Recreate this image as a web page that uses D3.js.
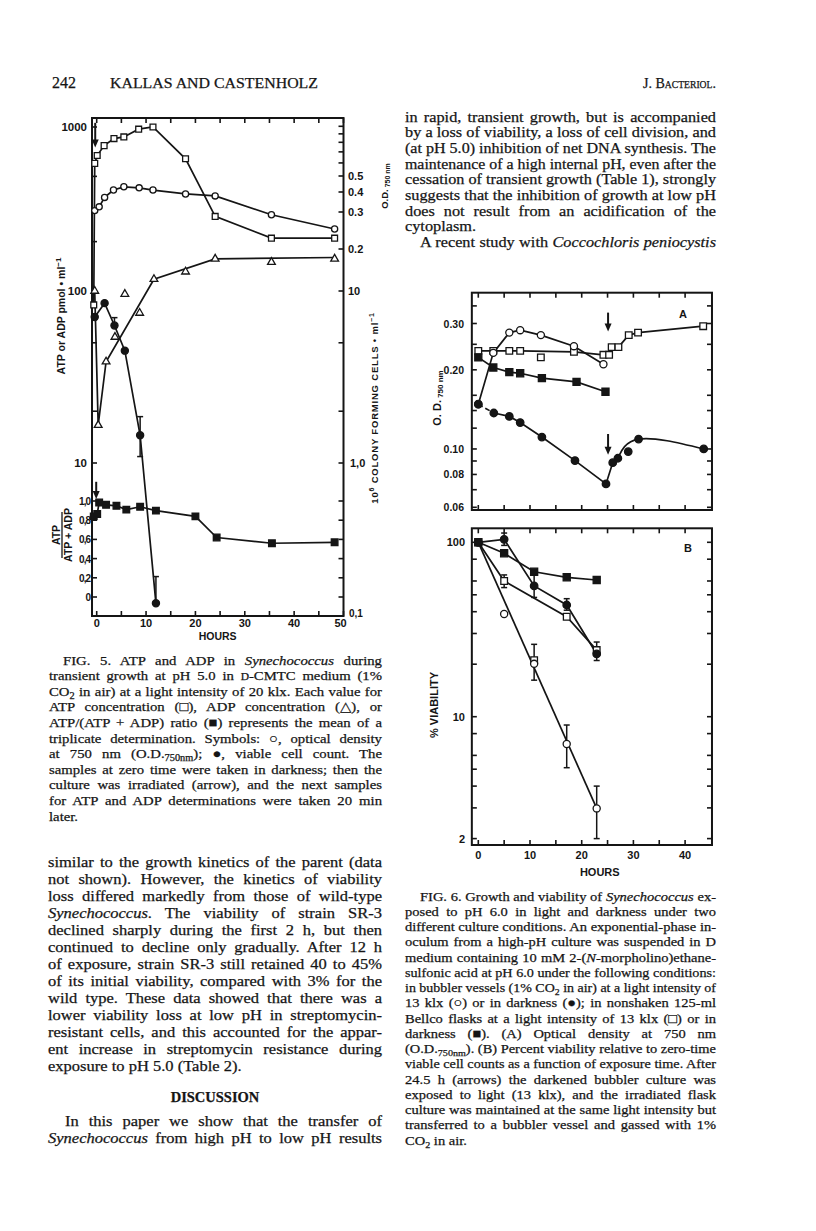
<!DOCTYPE html>
<html lang="en">
<head>
<meta charset="UTF-8">
<title>Kallas and Castenholz - page 242</title>
<script src="https://d3js.org/d3.v7.min.js"></script>
<style>
  body { margin: 0; background: #fff; }
  svg { display: block; background: #fff; }
  .serif { font-family: "Liberation Serif", "DejaVu Serif", serif; fill: #151515; stroke: #151515; stroke-width: 0.25; }
  .sans { font-family: "Liberation Sans", Arial, sans-serif; fill: #151515; font-weight: bold; }
</style>
</head>
<body>
<svg id="page" width="816" height="1231"></svg>
<script>
// ---------- FIG. 5 data (x = hours) ----------
const atpPoints = [[-0.6, 83], [-0.4, 600], [0.1, 670], [1.5, 770], [3.5, 850], [5.5, 870], [8.5, 970], [11.4, 1000], [18, 640], [24, 285], [35.4, 210], [48.2, 210]];
const odPoints = [[-0.4, 0.306], [0.5, 0.323], [1.6, 0.37], [3.4, 0.411], [5.5, 0.43], [8.6, 0.424], [11.4, 0.411], [18, 0.389], [24, 0.378], [35.4, 0.291], [48.2, 0.249]];
const adpPoints = [[-0.4, 100], [0.3, 16.6], [1.9, 38.8], [3.7, 54], [5.7, 96], [8.7, 74.5], [11.6, 118], [18, 131], [24, 157], [35.4, 150], [48.2, 157]];
const adpLine = [[-0.4, 100], [0.3, 16.6], [1.9, 38.8], [11.6, 118], [24, 157], [48.2, 160]];
const viablePoints = [[-0.4, 7.06], [1.6, 8.5], [3.6, 6.3], [5.7, 4.5], [8.8, 1.45], [12, 0.121]];   // 10^6 cells/ml
const viableErrors = [[3.6, 6.3, 7.0], [8.8, 1.09, 1.86], [12, 0.121, 0.181]];
const ratioPoints = [[-0.6, 0.84], [0.1, 0.865], [0.5, 0.985], [1.9, 0.96], [4, 0.95], [6, 0.91], [8.8, 0.94], [12, 0.90], [20, 0.84], [24.3, 0.62], [35.5, 0.56], [48.2, 0.57]];
const fig5Arrows = [{ t: -0.3, from: 1060, to: 750, axis: "left" }, { t: -0.1, from: 1.2, to: 1.02, axis: "ratio" }];

const hours5Ticks = d3.range(0, 51, 5);
const hours5Labels = [0, 10, 20, 30, 40, 50];
const left5Ticks = [10, 20, 50, 100, 200, 500, 1000];
const left5Labels = [10, 100, 1000];
const od5Ticks = [0.2, 0.3, 0.4, 0.5, 0.6, 0.7, 0.8, 0.9, 1.0];
const od5Labels = ["0.5", "0.4", "0.3", "0.2"];
const colony5Ticks = [1, 2, 5, 10];
const ratioTicks = [0, 0.2, 0.4, 0.6, 0.8, 1.0];
const ratioLabels = ["0", "0,2", "0,4", "0,6", "0,8", "1,0"];

// ---------- FIG. 6A data (O.D. 750 nm) ----------
const aLightBubbler = [[0, 0.148], [2.9, 0.232], [6, 0.277], [8.1, 0.283], [12.1, 0.271], [18.5, 0.246], [24.2, 0.210]];
const aLightFlask = [[0, 0.236], [2.9, 0.236], [6, 0.236], [8.1, 0.236], [12.1, 0.223], [18.5, 0.234], [24.2, 0.228], [25.3, 0.228], [25.8, 0.244], [27.1, 0.244], [29.1, 0.271], [30.9, 0.277], [43.5, 0.293]];
const aLightFlaskLine = [[0, 0.236], [8.1, 0.236], [18.5, 0.234], [24.2, 0.228], [25.3, 0.228], [25.8, 0.244], [27.1, 0.244], [29.1, 0.271], [30.9, 0.277], [43.5, 0.293]];
const aDarkFlask = [[0, 0.223], [2.9, 0.204], [6, 0.196], [8.1, 0.194], [12.3, 0.186], [19, 0.180], [24.6, 0.165]];
const aDarkBubbler = [[0, 0.148], [3, 0.137], [6, 0.133], [8.1, 0.126], [12.3, 0.111], [18.7, 0.0903], [24.7, 0.0736], [26, 0.0887], [27, 0.0922], [29, 0.0977], [31, 0.109], [43.6, 0.100]];
const aDarkBubblerCurve = [[26, 0.0887], [27, 0.0922], [31, 0.109], [43.6, 0.100]];
const aArrows = [{ t: 25.1, from: 0.33, to: 0.28 }, { t: 25.1, from: 0.114, to: 0.095 }];
const aTicks = [0.06, 0.07, 0.08, 0.09, 0.10, 0.12, 0.14, 0.16, 0.20, 0.25, 0.30, 0.35];
const aLabels = ["0.06", "0.08", "0.10", "0.20", "0.30"];

// ---------- FIG. 6B data (% viability) ----------
const bLightBubbler = [[0, 100], [5, 38.8], [10.8, 20.1], [17.1, 6.97], [22.9, 2.98]];
const bLightBubblerLine = [[0, 100], [22.9, 2.98]];
const bLightBubblerErr = [[10.8, 16.2, 26], [17.1, 5.1, 8.96], [22.9, 2.0, 4.0]];
const bLightFlask = [[0, 100], [5, 60], [10.8, 21.1], [17.1, 37.4], [22.9, 24.1]];
const bLightFlaskLine = [[0, 100], [5, 60], [17.1, 37.4], [22.9, 24.1]];
const bLightFlaskErr = [[5, 55, 65]];
const bDarkBubbler = [[0, 100], [5, 104], [10.8, 56.2], [17.1, 43.7], [22.9, 22.9]];
const bDarkBubblerErr = [[5, 96, 113], [10.8, 48.3, 69.5], [17.1, 40.8, 47.5], [22.9, 21, 26.8]];
const bDarkFlask = [[0, 100], [5, 86.5], [10.8, 67.8], [17.1, 63.0], [22.9, 60.8]];
const bTicks = [2, 3, 4, 5, 6, 8, 10, 20, 30, 40, 50, 60, 80, 100];
const bLabels = [2, 10, 100];
const hours6Ticks = d3.range(0, 41, 5);
const hours6Labels = [0, 10, 20, 30, 40];

// ---------- page text ----------
const rightTop = [
  "in rapid, transient growth, but is accompanied",
  "by a loss of viability, a loss of cell division, and",
  "(at pH 5.0) inhibition of net DNA synthesis. The",
  "maintenance of a high internal pH, even after the",
  "cessation of transient growth (Table 1), strongly",
  "suggests that the inhibition of growth at low pH",
  "does not result from an acidification of the",
  "cytoplasm.¶",
  "\tA recent study with _Coccochloris peniocystis_"
];
const fig5Caption = [
  "\tFIG. 5. ATP and ADP in _Synechococcus_ during",
  "transient growth at pH 5.0 in #D#-CMTC medium (1%",
  "CO~2~ in air) at a light intensity of 20 klx. Each value for",
  "ATP concentration (□), ADP concentration (△), or",
  "ATP/(ATP + ADP) ratio (■) represents the mean of a",
  "triplicate determination. Symbols: ○, optical density",
  "at 750 nm (O.D.~750nm~); ●, viable cell count. The",
  "samples at zero time were taken in darkness; then the",
  "culture was irradiated (arrow), and the next samples",
  "for ATP and ADP determinations were taken 20 min",
  "later.¶"
];
const leftBody = [
  "similar to the growth kinetics of the parent (data",
  "not shown). However, the kinetics of viability",
  "loss differed markedly from those of wild-type",
  "_Synechococcus_. The viability of strain SR-3",
  "declined sharply during the first 2 h, but then",
  "continued to decline only gradually. After 12 h",
  "of exposure, strain SR-3 still retained 40 to 45%",
  "of its initial viability, compared with 3% for the",
  "wild type. These data showed that there was a",
  "lower viability loss at low pH in streptomycin-",
  "resistant cells, and this accounted for the appar-",
  "ent increase in streptomycin resistance during",
  "exposure to pH 5.0 (Table 2).¶"
];
const discussion = [
  "\tIn this paper we show that the transfer of",
  "_Synechococcus_ from high pH to low pH results"
];
const fig6Caption = [
  "\tFIG. 6. Growth and viability of _Synechococcus_ ex-",
  "posed to pH 6.0 in light and darkness under two",
  "different culture conditions. An exponential-phase in-",
  "oculum from a high-pH culture was suspended in D",
  "medium containing 10 mM 2-(_N_-morpholino)ethane-",
  "sulfonic acid at pH 6.0 under the following conditions:",
  "in bubbler vessels (1% CO~2~ in air) at a light intensity of",
  "13 klx (○) or in darkness (●); in nonshaken 125-ml",
  "Bellco flasks at a light intensity of 13 klx (□) or in",
  "darkness (■). (A) Optical density at 750 nm",
  "(O.D.~750nm~). (B) Percent viability relative to zero-time",
  "viable cell counts as a function of exposure time. After",
  "24.5 h (arrows) the darkened bubbler culture was",
  "exposed to light (13 klx), and the irradiated flask",
  "culture was maintained at the same light intensity but",
  "transferred to a bubbler vessel and gassed with 1%",
  "CO~2~ in air.¶"
];

const ink = "#151515";
const svg = d3.select("#page");

// _italic_, ~subscript~, #small#
function richText(t, s) {
  let it = false, sub = false, sm = false, dy = 0;
  s.split(/([_~#])/).forEach(p => {
    if (p === "_") { it = !it; return; }
    if (p === "~") { sub = !sub; dy += sub ? 3 : -3; return; }
    if (p === "#") { sm = !sm; return; }
    if (!p) return;
    const ts = t.append("tspan").text(p);
    if (dy) { ts.attr("dy", dy); dy = 0; }
    if (it) ts.attr("font-style", "italic");
    if (sub) ts.attr("font-size", "0.7em");
    if (sm) ts.attr("font-size", "0.78em");
  });
}

// justified lines: slight glyph stretch (like the scan), rest goes into the word gaps
function textBlock(cfg, lines) {
  const g = svg.append("g");
  lines.forEach((raw, i) => {
    let s = raw, indent = 0, justify = true;
    if (s.startsWith("\t")) { s = s.slice(1); indent = cfg.indent; }
    if (s.endsWith("¶")) { s = s.slice(0, -1); justify = false; }
    const t = g.append("text").attr("class", "serif")
      .attr("x", cfg.x0 + indent).attr("y", cfg.y0 + i * cfg.dy)
      .attr("font-size", cfg.size);
    richText(t, s);
    const nat = t.node().getComputedTextLength();
    if (!justify) {
      t.attr("textLength", nat * cfg.k).attr("lengthAdjust", "spacingAndGlyphs");
      return;
    }
    const target = cfg.x1 - cfg.x0 - indent;
    const k = Math.min(target / nat, cfg.k);
    const spaces = (s.match(/ /g) || []).length;
    if (spaces && target / k > nat) t.attr("word-spacing", (target / k - nat) / spaces);
    t.attr("textLength", target).attr("lengthAdjust", "spacingAndGlyphs");
  });
}

// header
svg.append("text").attr("class", "serif").attr("x", 52).attr("y", 88).attr("font-size", 16).text("242");
svg.append("text").attr("class", "serif").attr("x", 110).attr("y", 88).attr("font-size", 14.5)
  .attr("textLength", 208).attr("lengthAdjust", "spacingAndGlyphs").text("KALLAS AND CASTENHOLZ");
svg.append("text").attr("class", "serif").attr("x", 643).attr("y", 88).attr("font-size", 14.5)
  .attr("font-variant", "small-caps").attr("textLength", 73).attr("lengthAdjust", "spacingAndGlyphs").text("J. Bacteriol.");

textBlock({ x0: 405, x1: 716, y0: 121.5, dy: 15.7, size: 14.8, indent: 15, k: 1.1 }, rightTop);
textBlock({ x0: 49, x1: 382, y0: 664.5, dy: 15.6, size: 13.4, indent: 14, k: 1.1 }, fig5Caption);
textBlock({ x0: 48, x1: 382, y0: 867, dy: 17, size: 15, indent: 0, k: 1.1 }, leftBody);
svg.append("text").attr("class", "serif").attr("x", 215).attr("y", 1102).attr("font-size", 14.5)
  .attr("font-weight", "bold").attr("text-anchor", "middle").text("DISCUSSION");
textBlock({ x0: 48, x1: 382, y0: 1126, dy: 17, size: 15, indent: 17, k: 1.1 }, discussion);
textBlock({ x0: 405, x1: 716, y0: 900.5, dy: 15.25, size: 13.2, indent: 15, k: 1.1 }, fig6Caption);

// ---------- chart helpers ----------
function frame(g, x0, x1, y0, y1) {
  g.append("rect").attr("x", x0).attr("y", y0).attr("width", x1 - x0).attr("height", y1 - y0)
    .attr("fill", "none").attr("stroke", ink).attr("stroke-width", 2);
}
function hTicks(g, xs, vals, y, dir, len) {
  g.selectAll(null).data(vals).join("line")
    .attr("x1", d => xs(d)).attr("x2", d => xs(d)).attr("y1", y).attr("y2", y + dir * len)
    .attr("stroke", ink).attr("stroke-width", 1.6);
}
function vTicks(g, ys, vals, x, dir, len) {
  g.selectAll(null).data(vals).join("line")
    .attr("y1", d => ys(d)).attr("y2", d => ys(d)).attr("x1", x).attr("x2", x + dir * len)
    .attr("stroke", ink).attr("stroke-width", 1.6);
}
function path(g, pts, xs, ys, curve, dash) {
  g.append("path").datum(pts)
    .attr("d", d3.line().x(d => xs(d[0])).y(d => ys(d[1])).curve(curve || d3.curveLinear))
    .attr("fill", "none").attr("stroke", ink).attr("stroke-width", 1.7)
    .attr("stroke-dasharray", dash || null);
}
function marks(g, pts, xs, ys, type, size, filled) {
  g.selectAll(null).data(pts).join("path")
    .attr("transform", d => `translate(${xs(d[0])},${ys(d[1])})`)
    .attr("d", d3.symbol(type, size))
    .attr("fill", filled ? ink : "#fff").attr("stroke", ink).attr("stroke-width", 1.3);
}
function errBars(g, errs, xs, ys) {
  errs.forEach(([t, lo, hi]) => {
    const x = xs(t);
    g.append("line").attr("x1", x).attr("x2", x).attr("y1", ys(lo)).attr("y2", ys(hi))
      .attr("stroke", ink).attr("stroke-width", 1.5);
    [lo, hi].forEach(v => g.append("line").attr("x1", x - 3).attr("x2", x + 3)
      .attr("y1", ys(v)).attr("y2", ys(v)).attr("stroke", ink).attr("stroke-width", 1.5));
  });
}
function arrow(g, x, y0, y1) {
  g.append("line").attr("x1", x).attr("x2", x).attr("y1", y0).attr("y2", y1 - 6)
    .attr("stroke", ink).attr("stroke-width", 2);
  g.append("path").attr("d", `M${x - 3.5},${y1 - 8}L${x + 3.5},${y1 - 8}L${x},${y1}Z`).attr("fill", ink);
}
function label(g, x, y, txt, size, anchor) {
  return g.append("text").attr("class", "sans").attr("x", x).attr("y", y)
    .attr("font-size", size).attr("text-anchor", anchor || "middle").text(txt);
}

// ---------- FIG. 5 ----------
const f5 = svg.append("g");
const x5 = d3.scaleLinear().domain([0, 50]).range([96.7, 343.5]);
const yL = d3.scaleLog().domain([1, 10, 100, 1000]).range([616, 463, 291, 127]);
const yCol = v => yL(v * 10);
const yOD = d3.scaleLog().domain([0.2, 0.3, 0.4, 0.5]).range([249, 212, 192, 176]);
const yR = d3.scaleLinear().domain([0, 1]).range([597, 501]);
const f5L = x5(-0.95), f5R = x5(50), f5T = 118, f5B = 616;

frame(f5, f5L, f5R, f5T, f5B);
hTicks(f5, x5, hours5Ticks, f5B, -1, 5);
hTicks(f5, x5, hours5Ticks, f5T, 1, 5);
vTicks(f5, yL, left5Ticks, f5L, 1, 5);
vTicks(f5, yR, ratioTicks, f5L, 1, 5);
vTicks(f5, yOD, od5Ticks.filter(v => yOD(v) > f5T + 3), f5R, -1, 5);
vTicks(f5, yCol, colony5Ticks, f5R, -1, 5);
vTicks(f5, yR, ratioTicks, f5R, -1, 5);

hours5Labels.forEach(h => label(f5, x5(h) - (h === 50 ? 3 : 0), 627, h, 11));
label(f5, x5(24.5), 640, "HOURS", 10.5);
left5Labels.forEach(v => label(f5, 87, yL(v) + 4, v, 11.5, "end"));
ratioTicks.forEach((v, i) => label(f5, 90, yR(v) + 4, ratioLabels[i], 10, "end").attr("letter-spacing", -1));
od5Labels.forEach(s => label(f5, 348, yOD(+s) + 4, s, 11, "start"));
label(f5, 348, yCol(10) + 4, "10", 11, "start");
label(f5, 350, yCol(1) + 4, "1,0", 11, "start");
label(f5, 349, yCol(0.1) + 1, "0,1", 10, "start");

// rotated axis titles
const t5a = f5.append("text").attr("class", "sans").attr("font-size", 10.5).attr("text-anchor", "middle")
  .attr("transform", "translate(65,316) rotate(-90)");
t5a.append("tspan").text("ATP or ADP pmol • ml");
t5a.append("tspan").attr("dy", -4).attr("font-size", 8).text("−1");
const fracX = 60;
f5.append("text").attr("class", "sans").attr("font-size", 10.5).attr("text-anchor", "middle")
  .attr("transform", `translate(${fracX},535) rotate(-90)`).text("ATP");
f5.append("line").attr("x1", fracX + 2).attr("x2", fracX + 2).attr("y1", 512).attr("y2", 558)
  .attr("stroke", ink).attr("stroke-width", 1.3);
f5.append("text").attr("class", "sans").attr("font-size", 10.5).attr("text-anchor", "middle")
  .attr("transform", `translate(${fracX + 12},535) rotate(-90)`).text("ATP + ADP");
const t5od = f5.append("text").attr("class", "sans").attr("font-size", 9.5).attr("text-anchor", "middle")
  .attr("transform", "translate(388,186) rotate(-90)");
t5od.append("tspan").text("O.D.");
t5od.append("tspan").attr("font-size", 7).attr("dy", 2).text(" 750 nm");
const t5c = f5.append("text").attr("class", "sans").attr("font-size", 9.5).attr("text-anchor", "middle")
  .attr("transform", "translate(378,408) rotate(-90)").attr("letter-spacing", 0.8);
t5c.append("tspan").text("10");
t5c.append("tspan").attr("dy", -4).attr("font-size", 7).text("6");
t5c.append("tspan").attr("dy", 4).text(" COLONY  FORMING  CELLS • ml");
t5c.append("tspan").attr("dy", -4).attr("font-size", 7).text("−1");

// lines
path(f5, atpPoints, x5, yL);
path(f5, odPoints, x5, yOD);
path(f5, adpLine, x5, yL);
path(f5, viablePoints, x5, yCol);
path(f5, ratioPoints, x5, yR);
errBars(f5, viableErrors, x5, yCol);
fig5Arrows.forEach(a => {
  const ys = a.axis === "left" ? yL : yR;
  arrow(f5, x5(a.t), ys(a.from), ys(a.to));
});
// markers
marks(f5, atpPoints, x5, yL, d3.symbolSquare, 34, false);
marks(f5, odPoints, x5, yOD, d3.symbolCircle, 30, false);
marks(f5, adpPoints, x5, yL, d3.symbolTriangle, 26, false);
marks(f5, viablePoints, x5, yCol, d3.symbolCircle, 40, true);
marks(f5, ratioPoints, x5, yR, d3.symbolSquare, 44, true);

// ---------- FIG. 6 ----------
const f6 = svg.append("g");
const x6 = d3.scaleLinear().domain([0, 40]).range([478.3, 685.1]);
const yA = d3.scaleLog().domain([0.06, 0.30]).range([507.3, 323.5]);
const yB = d3.scaleLog().domain([2, 100]).range([838.6, 542.3]);
const f6L = x6(-1.25), f6R = x6(45.2);

// panel A
frame(f6, f6L, f6R, 292.7, 510);
hTicks(f6, x6, hours6Ticks, 510, -1, 5);
hTicks(f6, x6, hours6Ticks, 292.7, 1, 5);
vTicks(f6, yA, aTicks, f6L, 1, 5);
vTicks(f6, yA, aTicks, f6R, -1, 5);
aLabels.forEach(s => label(f6, 464, yA(+s) + 4, s, 10.5, "end"));
label(f6, 683, 317.5, "A", 11);
const tA = f6.append("text").attr("class", "sans").attr("font-size", 11).attr("text-anchor", "middle")
  .attr("transform", "translate(441,398) rotate(-90)");
tA.append("tspan").text("O. D.");
tA.append("tspan").attr("font-size", 8).attr("dy", 2).text(" 750 nm");

path(f6, aLightBubbler, x6, yA);
path(f6, aLightFlaskLine, x6, yA);
path(f6, aDarkFlask, x6, yA);
path(f6, aDarkBubbler.slice(0, 2), x6, yA, null, "5,3");
path(f6, aDarkBubbler.slice(1, 8), x6, yA);
path(f6, aDarkBubblerCurve, x6, yA, d3.curveNatural);
aArrows.forEach(a => arrow(f6, x6(a.t), yA(a.from), yA(a.to)));
marks(f6, aLightFlask, x6, yA, d3.symbolSquare, 44, false);
marks(f6, aDarkFlask, x6, yA, d3.symbolSquare, 50, true);
marks(f6, aLightBubbler, x6, yA, d3.symbolCircle, 40, false);
marks(f6, aDarkBubbler, x6, yA, d3.symbolCircle, 44, true);

// panel B
frame(f6, f6L, f6R, 528.3, 845);
hTicks(f6, x6, hours6Ticks, 845, -1, 5);
hTicks(f6, x6, hours6Ticks, 528.3, 1, 5);
vTicks(f6, yB, bTicks, f6L, 1, 5);
vTicks(f6, yB, bTicks, f6R, -1, 5);
bLabels.forEach(v => label(f6, 465, yB(v) + 4, v, 11, "end"));
hours6Labels.forEach(h => label(f6, x6(h), 859, h, 11));
label(f6, x6(23.5), 876, "HOURS", 11);
label(f6, 688, 552, "B", 11);
f6.append("text").attr("class", "sans").attr("font-size", 11).attr("text-anchor", "middle")
  .attr("transform", "translate(438,705) rotate(-90)").text("% VIABILITY");

path(f6, bLightBubblerLine, x6, yB);
path(f6, bLightFlaskLine, x6, yB);
path(f6, bDarkBubbler, x6, yB);
path(f6, bDarkFlask, x6, yB);
errBars(f6, bLightBubblerErr, x6, yB);
errBars(f6, bLightFlaskErr, x6, yB);
errBars(f6, bDarkBubblerErr, x6, yB);
marks(f6, bDarkFlask, x6, yB, d3.symbolSquare, 50, true);
marks(f6, bLightFlask, x6, yB, d3.symbolSquare, 44, false);
marks(f6, bLightBubbler, x6, yB, d3.symbolCircle, 40, false);
marks(f6, bDarkBubbler, x6, yB, d3.symbolCircle, 44, true);
</script>
</body>
</html>
